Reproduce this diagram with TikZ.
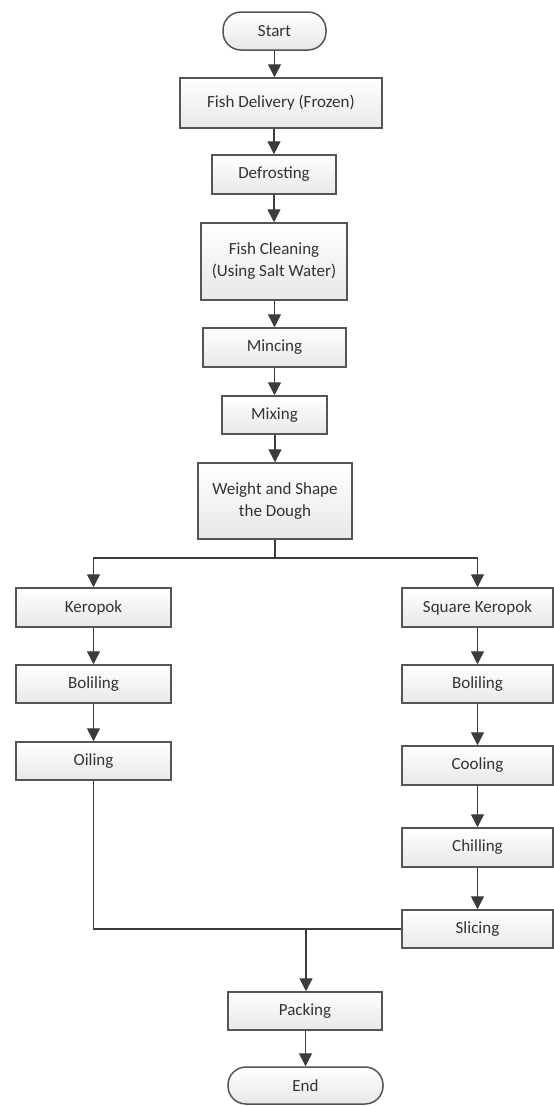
\documentclass[tikz,border=0pt]{standalone}
\usepackage{fontspec}
\setmainfont{Carlito}
\usetikzlibrary{arrows.meta}
\definecolor{edgegray}{HTML}{555555}
\definecolor{linegray}{HTML}{3C3C3C}
\definecolor{txtgray}{HTML}{333333}
\definecolor{fillbot}{HTML}{E8E8E8}
\tikzset{
  procbox/.style={draw=edgegray, line width=1.5pt, top color=white, bottom color=fillbot,
    text=txtgray, align=center, inner sep=0pt,
    font=\fontsize{17}{22}\selectfont},
  termbox/.style={procbox, rounded corners=18pt},
  arr/.style={draw=linegray, line width=1.4pt, -{Triangle[length=13pt,width=13pt]}},
  flowline/.style={draw=linegray, line width=1.4pt}
}
\newcommand\flowto[2]{\draw[arr] (#2.north |- #1.south) -- (#2.north);}
\begin{document}
\begin{tikzpicture}[x=1pt,y=-1pt]
\useasboundingbox (0,0) rectangle (554,1106);
\fill[white] (0,0) rectangle (554,1106);
% main column
\node[termbox, minimum width=103pt, minimum height=38pt] (start) at (274.5,31) {Start};
\node[procbox, minimum width=202pt, minimum height=50pt] (fd) at (281,103) {Fish Delivery (Frozen)};
\node[procbox, minimum width=124pt, minimum height=39pt] (defrost) at (274,174.5) {Defrosting};
\node[procbox, minimum width=146pt, minimum height=77pt] (clean) at (274,261.5) {Fish Cleaning\\(Using Salt Water)};
\node[procbox, minimum width=143pt, minimum height=39pt] (mince) at (274.5,347.5) {Mincing};
\node[procbox, minimum width=105pt, minimum height=38pt] (mix) at (274.5,415) {Mixing};
\node[procbox, minimum width=154pt, minimum height=76pt] (weight) at (275,501) {Weight and Shape\\the Dough};
% left branch
\node[procbox, minimum width=155pt, minimum height=39pt] (ker) at (93.5,607.5) {Keropok};
\node[procbox, minimum width=155pt, minimum height=38pt] (boilA) at (93.5,684) {Boliling};
\node[procbox, minimum width=155pt, minimum height=38pt] (oil) at (93.5,761) {Oiling};
% right branch
\node[procbox, minimum width=151pt, minimum height=39pt] (sq) at (477.5,607.5) {Square Keropok};
\node[procbox, minimum width=151pt, minimum height=38pt] (boilB) at (477.5,684) {Boliling};
\node[procbox, minimum width=151pt, minimum height=39pt] (cool) at (477.5,765.5) {Cooling};
\node[procbox, minimum width=151pt, minimum height=39pt] (chill) at (477.5,847.5) {Chilling};
\node[procbox, minimum width=151pt, minimum height=38pt] (slice) at (477.5,929) {Slicing};
% end
\node[procbox, minimum width=154pt, minimum height=38pt] (pack) at (305,1011) {Packing};
\node[termbox, minimum width=155pt, minimum height=37pt] (endn) at (305.5,1085.5) {End};
% connectors
\draw[arr] (start.south) -- (start.south |- fd.north);
\draw[arr] (defrost.north |- fd.south) -- (defrost.north);
\flowto{defrost}{clean}
\flowto{clean}{mince}
\flowto{mince}{mix}
\flowto{mix}{weight}
\coordinate (br) at (275,558);
\draw[flowline] (weight.south) -- (br);
\draw[arr] (br) -| (ker.north);
\draw[arr] (br) -| (sq.north);
\flowto{ker}{boilA}
\flowto{boilA}{oil}
\flowto{sq}{boilB}
\flowto{boilB}{cool}
\flowto{cool}{chill}
\flowto{chill}{slice}
\draw[flowline] (oil.south) |- (slice.west);
\coordinate (mg) at (306,929);
\draw[arr] (mg) -- (mg |- pack.north);
\flowto{pack}{endn}
\end{tikzpicture}
\end{document}
